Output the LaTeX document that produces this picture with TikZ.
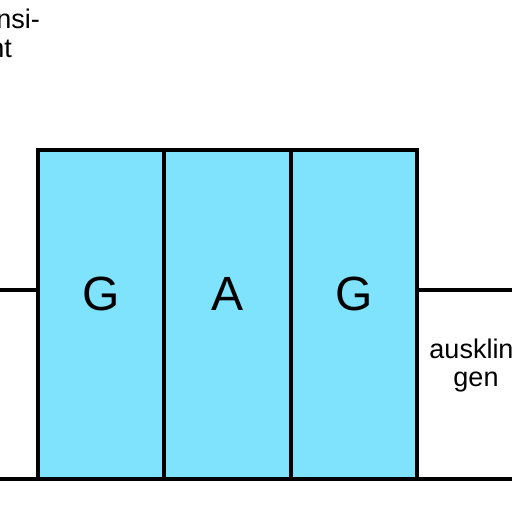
\documentclass[tikz,border=0pt]{standalone}
\usepackage{fontspec}
\setmainfont{Liberation Sans}
\usetikzlibrary{positioning}

\definecolor{basecyan}{RGB}{128,227,253}
\tikzset{
  base/.style={draw,line width=4pt,fill=basecyan,minimum width=126.33pt,
    minimum height=329pt,inner sep=0pt,outer sep=0pt,
    text height=34.5pt,text depth=43.5pt,
    font=\fontsize{48}{48}\selectfont},
  strand/.style={line width=4pt},
  note/.style={inner sep=0pt,font=\fontsize{27}{28}\selectfont}
}

\begin{document}
\begin{tikzpicture}[x=1pt,y=-1pt]
\useasboundingbox (0,0) rectangle (512,512);
\clip (0,0) rectangle (512,512);
% lines
\coordinate (left) at (0,290);
\coordinate (right) at (512,290);
\coordinate (bl) at (0,479);
\coordinate (br) at (512,479);
% the three bases
\node[base] (g1) at (101.17,314.5) {G};
\node[base,right=0pt of g1] (a) {A};
\node[base,right=0pt of a] (g2) {G};
\draw[strand] (left) -- (left -| g1.west);
\draw[strand] (g2.east |- right) -- (right);
\draw[strand] (bl) -- (br);
% labels
\node[note,anchor=base east] (ta) at (40,28) {nsi-};
\node[note,anchor=base east] (tb) at (12,57) {nt};
\node[note,align=center] (aus) at (476,366) {ausklin-\\gen};
\end{tikzpicture}
\end{document}
